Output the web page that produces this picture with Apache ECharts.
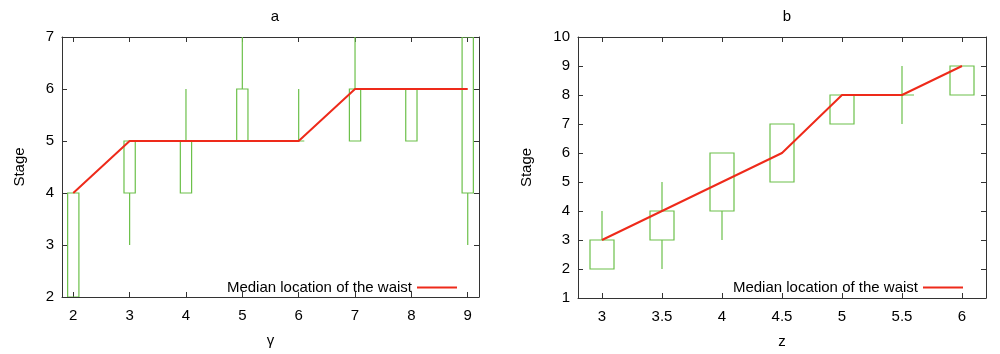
<!DOCTYPE html>
<html>
<head>
<meta charset="utf-8">
<script src="https://cdn.jsdelivr.net/npm/echarts@6/dist/echarts.min.js"></script>
<style>
html, body { margin: 0; padding: 0; background: #fff; }
#main { width: 1000px; height: 354px; }
</style>
</head>
<body>
<div id="main"></div>
<script>
// panel a: gamma
var gammaX = [2, 3, 4, 5, 6, 7, 8, 9];
var gammaBoxLo = [2, 4, 4, 5, 5, 5, 5, 4];
var gammaBoxHi = [4, 5, 5, 6, 5, 6, 6, 7];
var gammaWhiskLo = [2, 3, 4, 5, 5, 5, 5, 3];
var gammaWhiskHi = [4, 5, 6, 7, 6, 7, 6, 7];
var gammaMedian = [4, 5, 5, 5, 5, 6, 6, 6];
var gammaTicks = [2, 3, 4, 5, 6, 7, 8, 9];

// panel b: z
var zX = [3, 3.5, 4, 4.5, 5, 5.5, 6];
var zBoxLo = [2, 3, 4, 5, 7, 8, 8];
var zBoxHi = [3, 4, 6, 7, 8, 8, 9];
var zWhiskLo = [2, 2, 3, 5, 7, 7, 8];
var zWhiskHi = [4, 5, 6, 7, 8, 9, 9];
var zMedian = [3, 4, 5, 6, 8, 8, 9];
var zTicks = [3, 3.5, 4, 4.5, 5, 5.5, 6];

var legendName = 'Median location of the waist';
var green = '#6cc04a';
var red = '#ee2a1a';
var font = 'Liberation Sans, Helvetica, Arial, sans-serif';

function boxRows(xs, lo, hi, wlo, whi) {
    return xs.map(function (x, i) {
        return [x, lo[i], hi[i], wlo[i], whi[i]];
    });
}

function renderBox(params, api) {
    var x = api.value(0);
    var half = 0.1;
    var p1 = api.coord([x - half, api.value(1)]);
    var p2 = api.coord([x + half, api.value(2)]);
    var wl = api.coord([x, api.value(3)]);
    var wh = api.coord([x, api.value(4)]);
    var style = { stroke: green, fill: null, lineWidth: 1.2 };
    var children = [{
        type: 'rect',
        shape: { x: p1[0], y: p2[1], width: p2[0] - p1[0], height: p1[1] - p2[1] },
        style: style
    }];
    if (api.value(3) < api.value(1)) {
        children.push({ type: 'line', shape: { x1: wl[0], y1: wl[1], x2: wl[0], y2: p1[1] }, style: style });
    }
    if (api.value(4) > api.value(2)) {
        children.push({ type: 'line', shape: { x1: wh[0], y1: p2[1], x2: wh[0], y2: wh[1] }, style: style });
    }
    return { type: 'group', children: children };
}

function pairs(xs, ys) {
    return xs.map(function (x, i) { return [x, ys[i]]; });
}

var axisLine = { show: true, lineStyle: { color: '#333', width: 1 } };
var tickIn = { show: true, inside: true, length: 5, lineStyle: { color: '#333' } };
var labelStyle = { color: '#000', fontSize: 15, fontFamily: font };

function xMain(grid, min, max, ticks, name) {
    return {
        type: 'value', gridIndex: grid, min: min, max: max, position: 'bottom',
        name: name, nameLocation: 'middle', nameGap: 36,
        nameTextStyle: { color: '#000', fontSize: 15, fontFamily: font },
        axisLine: axisLine,
        axisTick: Object.assign({ customValues: ticks }, tickIn),
        axisLabel: Object.assign({ customValues: ticks, margin: 11 }, labelStyle),
        splitLine: { show: false }
    };
}
function xMirror(grid, min, max, ticks) {
    return {
        type: 'value', gridIndex: grid, min: min, max: max, position: 'top',
        axisLine: axisLine,
        axisTick: Object.assign({ customValues: ticks }, tickIn),
        axisLabel: { show: false },
        splitLine: { show: false }
    };
}
function yMain(grid, min, max, gap) {
    return {
        type: 'value', gridIndex: grid, min: min, max: max, interval: 1, position: 'left',
        name: 'Stage', nameLocation: 'middle', nameGap: gap,
        nameTextStyle: { color: '#000', fontSize: 15, fontFamily: font },
        axisLine: axisLine, axisTick: tickIn,
        axisLabel: Object.assign({ margin: 8 }, labelStyle),
        splitLine: { show: false }
    };
}
function yMirror(grid, min, max) {
    return {
        type: 'value', gridIndex: grid, min: min, max: max, interval: 1, position: 'right',
        axisLine: axisLine, axisTick: tickIn,
        axisLabel: { show: false },
        splitLine: { show: false }
    };
}

var myChart = echarts.init(document.getElementById('main'), null, { renderer: 'canvas' });

var option = {
    animation: false,
    backgroundColor: '#fff',
    title: [{
        text: 'a', left: 270, top: 4, textAlign: 'center',
        textStyle: { fontSize: 15, fontWeight: 'normal', color: '#000', fontFamily: font }
    }, {
        text: 'b', left: 782, top: 4, textAlign: 'center',
        textStyle: { fontSize: 15, fontWeight: 'normal', color: '#000', fontFamily: font }
    }],
    legend: [{
        data: [legendName], right: 538, top: 275, align: 'right',
        icon: 'rect', itemWidth: 40, itemHeight: 2, itemGap: 10,
        textStyle: { fontSize: 15, color: '#000', fontFamily: font }
    }, {
        data: [legendName], right: 32, top: 275, align: 'right',
        icon: 'rect', itemWidth: 40, itemHeight: 2, itemGap: 10,
        textStyle: { fontSize: 15, color: '#000', fontFamily: font }
    }],
    grid: [
        { left: 62, right: 521, top: 37, bottom: 57 },
        { left: 578, right: 14, top: 37, bottom: 56 }
    ],
    xAxis: [
        xMain(0, 1.8, 9.2, gammaTicks, 'γ'),
        xMirror(0, 1.8, 9.2, gammaTicks),
        xMain(1, 2.8, 6.2, zTicks, 'z'),
        xMirror(1, 2.8, 6.2, zTicks)
    ],
    yAxis: [
        yMain(0, 2, 7, 35),
        yMirror(0, 2, 7),
        yMain(1, 1, 10, 44),
        yMirror(1, 1, 10)
    ],
    series: [{
        type: 'custom', name: 'box a', xAxisIndex: 0, yAxisIndex: 0, clip: true,
        renderItem: renderBox,
        data: boxRows(gammaX, gammaBoxLo, gammaBoxHi, gammaWhiskLo, gammaWhiskHi)
    }, {
        type: 'line', name: legendName, xAxisIndex: 0, yAxisIndex: 0,
        symbol: 'none', color: red, lineStyle: { color: red, width: 2 },
        data: pairs(gammaX, gammaMedian)
    }, {
        type: 'custom', name: 'box b', xAxisIndex: 2, yAxisIndex: 2, clip: true,
        renderItem: renderBox,
        data: boxRows(zX, zBoxLo, zBoxHi, zWhiskLo, zWhiskHi)
    }, {
        type: 'line', name: legendName, xAxisIndex: 2, yAxisIndex: 2,
        symbol: 'none', color: red, lineStyle: { color: red, width: 2 },
        data: pairs(zX, zMedian)
    }]
};
myChart.setOption(option);
</script>
</body>
</html>
